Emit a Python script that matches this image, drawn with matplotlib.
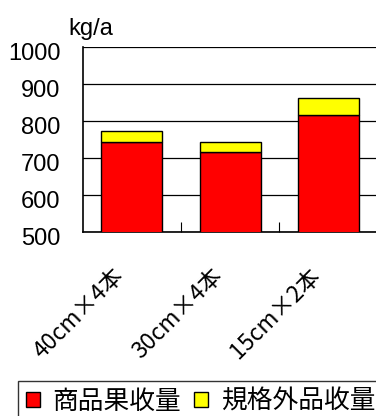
import matplotlib
matplotlib.use('Agg')
import matplotlib.pyplot as plt
from matplotlib.patches import Patch
from matplotlib.transforms import ScaledTranslation

plt.rcParams['font.family'] = ['Liberation Sans', 'Noto Sans CJK JP', 'DejaVu Sans']

categories = ['40cm×4本', '30cm×4本', '15cm×2本']
marketable = [742, 716, 816]
off_grade = [30, 27, 44]
series_names = ['商品果收量', '規格外品收量']
yticks = [500, 600, 700, 800, 900, 1000]

W, H = 376, 416
fig = plt.figure(figsize=(W / 100, H / 100), dpi=100)
ax = fig.add_axes([82.7 / W, (H - 231.7) / H, 295 / W, 185 / H])

x = range(len(categories))
ax.bar(x, marketable, width=0.62, color='#ff0000', edgecolor='black', linewidth=1.0, zorder=3)
ax.bar(x, off_grade, width=0.62, bottom=marketable, color='#ffff00', edgecolor='black',
       linewidth=1.0, zorder=3)

ax.set_xlim(-0.5, 2.5)
ax.set_ylim(500, 1000)
ax.set_yticks(yticks)
ax.set_yticklabels([str(v) for v in yticks], fontsize=17)
ax.tick_params(axis='y', length=0, pad=16)
shift = ScaledTranslation(0, -0.05, fig.dpi_scale_trans)
for lbl in ax.get_yticklabels():
    lbl.set_transform(lbl.get_transform() + shift)
ax.grid(axis='y', color='black', linewidth=0.9, zorder=0)

ax.set_xticks([0.5, 1.5])
ax.set_xticklabels([])
ax.tick_params(axis='x', direction='in', length=7, width=0.8)
for i, lab in enumerate(categories):
    ax.text(i - 0.2, 412, lab, rotation=45, ha='right', va='top', fontsize=16.5,
            rotation_mode='anchor', family=['Noto Sans CJK JP', 'DejaVu Sans'])

for s in ['top', 'right']:
    ax.spines[s].set_visible(False)
ax.spines['left'].set_linewidth(1.2)
ax.spines['bottom'].set_linewidth(1.2)

fig.text(68 / W, 1 - 35 / H, 'kg/a', fontsize=17, ha='left', va='baseline')

handles = [Patch(facecolor='#ff0000', edgecolor='black'),
           Patch(facecolor='#ffff00', edgecolor='black')]
leg = fig.legend(handles, series_names, loc='upper left', bbox_to_anchor=(18 / W, 1 - 381 / H),
                 ncol=2, frameon=True, fancybox=False, edgecolor='black',
                 prop={'family': ['Noto Sans CJK JP'], 'size': 18.5},
                 handlelength=0.55, handleheight=0.55, handletextpad=0.5, columnspacing=0.5,
                 borderpad=0.3, borderaxespad=0)
leg.get_frame().set_linewidth(1.0)

fig.savefig('out.png', dpi=100)
